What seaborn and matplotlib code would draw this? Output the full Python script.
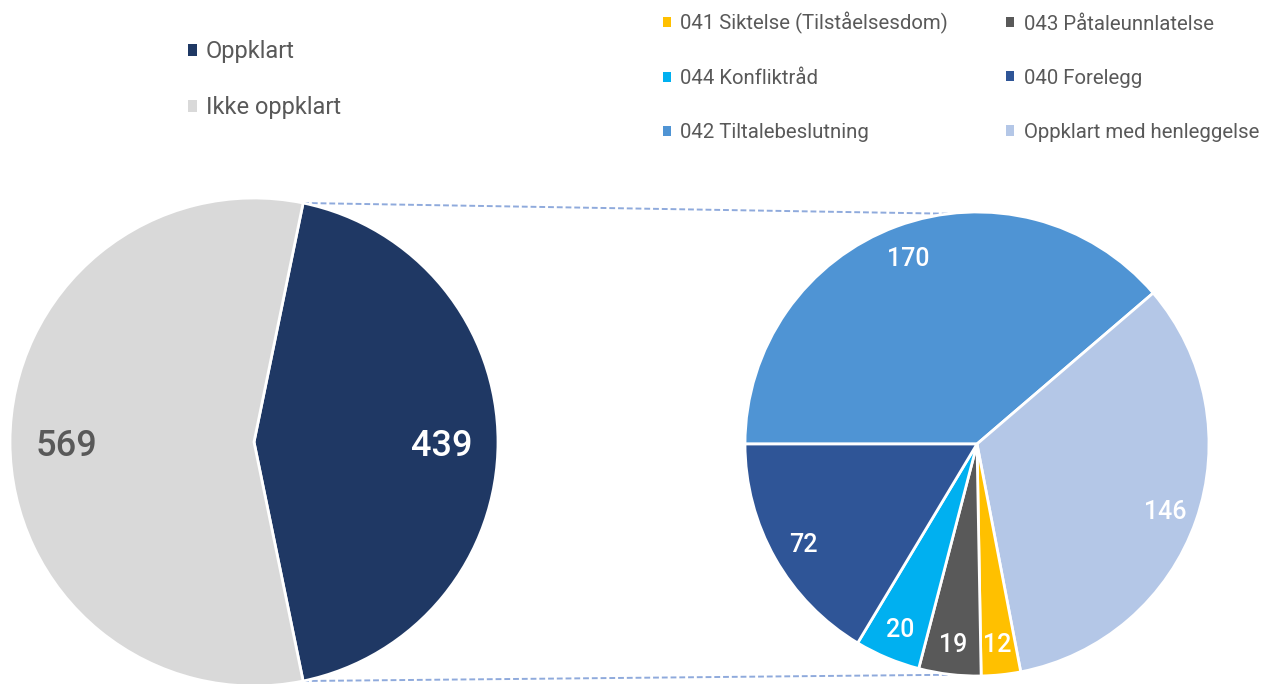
import numpy as np
import matplotlib
matplotlib.use("Agg")
import matplotlib.pyplot as plt
from matplotlib.patches import Patch
import seaborn as sns

# main pie
main_labels = ["Oppklart", "Ikke oppklart"]
main_values = [439, 569]
main_colors = ["#1F3864", "#D9D9D9"]

# breakdown of "Oppklart", clockwise from the left
sub_labels = ["042 Tiltalebeslutning", "Oppklart med henleggelse",
              "041 Siktelse (Tilståelsesdom)", "043 Påtaleunnlatelse",
              "044 Konfliktråd", "040 Forelegg"]
sub_values = [170, 146, 12, 19, 20, 72]
sub_colors = ["#4F94D4", "#B4C7E7", "#FFC000", "#595959", "#00B0F0", "#2F5597"]

# legend reads row by row in the original
legend_rows = [["041 Siktelse (Tilståelsesdom)", "043 Påtaleunnlatelse"],
               ["044 Konfliktråd", "040 Forelegg"],
               ["042 Tiltalebeslutning", "Oppklart med henleggelse"]]

sns.set_style("white")
plt.rcParams["font.family"] = ["Roboto", "DejaVu Sans"]
grey = "#595959"

W, H = 1277, 684
fig = plt.figure(figsize=(W / 100, H / 100), dpi=100)
ax = fig.add_axes([0, 0, 1, 1])

c1, r1 = (254, 242), 244
c2, r2 = (977, 240), 232

share = main_values[0] / sum(main_values)
half = 180 * share
w1, _, at1 = ax.pie(main_values, colors=main_colors, center=c1, radius=r1,
                    startangle=-half, counterclock=True,
                    autopct=lambda p: "", pctdistance=0.77,
                    wedgeprops=dict(edgecolor="white", linewidth=2))
for t, v, col in zip(at1, main_values, ["white", grey]):
    t.set_text(str(v))
    t.set_color(col)
    t.set_fontsize(26)
    t.set_fontweight("medium")
    t.set_va("center_baseline")

w2, _, at2 = ax.pie(sub_values, colors=sub_colors, center=c2, radius=r2,
                    startangle=180, counterclock=False,
                    autopct=lambda p: "", pctdistance=0.86,
                    wedgeprops=dict(edgecolor="white", linewidth=2))
for t, v in zip(at2, sub_values):
    t.set_text(str(v))
    t.set_color("white")
    t.set_fontsize(18)
    t.set_fontweight("medium")
    t.set_va("center_baseline")

# connector lines between the pies
for a1, a2 in [(half, 97), (-half, -96)]:
    p1 = (c1[0] + r1 * np.cos(np.radians(a1)), c1[1] + r1 * np.sin(np.radians(a1)))
    p2 = (c2[0] + r2 * np.cos(np.radians(a2)), c2[1] + r2 * np.sin(np.radians(a2)))
    ax.plot([p1[0], p2[0]], [p1[1], p2[1]], color="#8FAADC",
            lw=1.4, ls=(0, (3, 1.5)), zorder=0, clip_on=False)

# pie() resets the limits, so set them afterwards
ax.set_xlim(0, W)
ax.set_ylim(0, H)
ax.set_aspect("equal")
ax.axis("off")

# legends (anchors in figure fractions)
h1 = [Patch(facecolor=c, edgecolor="none") for c in main_colors]
leg1 = fig.legend(h1, main_labels, loc="upper left",
                  bbox_to_anchor=(188 / W, (H - 40) / H),
                  frameon=False, fontsize=17, labelcolor=grey,
                  handlelength=0.4, handleheight=0.4, handletextpad=0.35,
                  labelspacing=1.4, borderpad=0, borderaxespad=0)

color_of = dict(zip(sub_labels, sub_colors))
col_major = [row[0] for row in legend_rows] + [row[1] for row in legend_rows]
h2 = [Patch(facecolor=color_of[l], edgecolor="none") for l in col_major]
leg2 = fig.legend(h2, col_major, loc="upper left", ncol=2,
                  bbox_to_anchor=(663 / W, (H - 12) / H),
                  frameon=False, fontsize=14.7, labelcolor=grey,
                  handlelength=0.4, handleheight=0.4, handletextpad=0.45,
                  labelspacing=1.72, columnspacing=2.85,
                  borderpad=0, borderaxespad=0)

fig.savefig("out.png", dpi=100, facecolor="white")
